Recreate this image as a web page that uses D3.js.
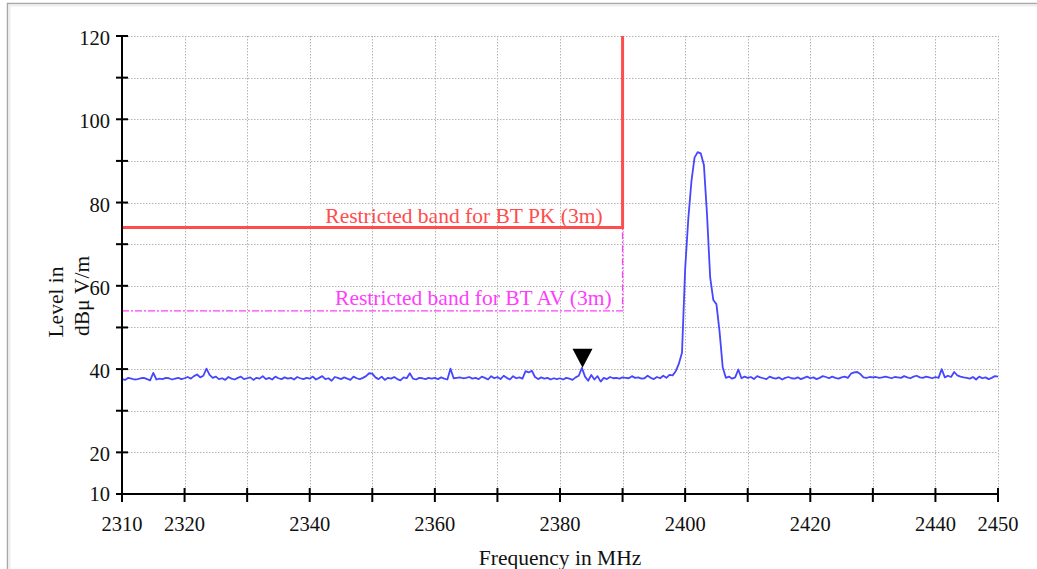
<!DOCTYPE html>
<html>
<head>
<meta charset="utf-8">
<script src="https://cdn.jsdelivr.net/npm/d3@7"></script>
<style>
  html, body { margin: 0; padding: 0; background: #fff; }
  svg { display: block; }
</style>
</head>
<body>
<svg id="chart" width="1037" height="569" font-family="'Liberation Serif', 'DejaVu Serif', serif"></svg>
<script>
// ---------- data ----------
const freqStart = 2310;
const freqStep = 0.5;
const levels = [
  // 2310 - 2319.5
  37.6,37.4,37.9,37.7,37.5,37.6,37.8,37.9,37.6,37.3, 39.1,37.5,37.7,37.6,37.9,37.8,37.5,37.7,37.9,37.6,
  // 2320 - 2329.5
  37.8,38.1,37.7,38.3,38.7,38.0,38.4,40.1,38.6,37.9, 38.2,37.6,37.8,37.4,38.1,37.7,37.5,37.9,38.2,37.6,
  // 2330 - 2339.5
  37.8,38.0,37.4,37.9,37.7,38.3,37.6,37.9,37.5,38.2, 37.8,37.6,38.0,37.7,37.9,37.5,38.1,37.8,37.6,37.9,
  // 2340 - 2349.5
  37.7,38.2,37.5,37.9,38.3,37.6,37.8,37.2,38.1,37.9, 37.6,38.0,37.7,37.4,38.2,37.8,37.6,37.9,38.3,39.0,
  // 2350 - 2359.5
  38.9,38.0,37.6,38.2,37.4,37.9,37.7,38.1,37.6,37.3, 38.0,37.8,39.0,37.7,37.5,37.9,37.8,37.6,37.9,37.7,
  // 2360 - 2369.5
  37.9,37.6,38.0,37.7,37.5,40.1,37.8,37.9,38.0,37.8, 37.9,38.1,37.7,37.9,37.6,38.2,37.9,37.5,38.3,37.8,
  // 2370 - 2379.5
  38.1,37.6,38.4,37.9,37.5,38.3,37.8,38.0,37.7,39.5, 39.2,39.6,38.1,37.6,38.0,37.7,37.9,37.5,37.8,37.6,
  // 2380 - 2389.5
  37.8,37.5,37.9,37.7,37.4,38.0,38.4,40.3,38.2,37.2, 38.6,37.5,38.3,37.0,37.9,37.6,38.1,37.8,37.9,37.7,
  // 2390 - 2399.5
  38.0,37.9,37.8,38.3,37.9,38.0,37.7,37.8,38.4,37.9, 37.6,38.1,37.8,38.4,37.9,38.6,38.5,39.5,41.3,44.0,
  // 2400 - 2409.5
  64.0,76.0,85.0,90.8,92.1,91.8,89.0,77.0,62.0,56.6, 55.6,49.0,40.5,37.9,38.2,37.7,38.0,39.9,37.8,38.2,
  // 2410 - 2419.5
  37.9,38.1,37.6,38.3,38.0,37.8,37.6,38.2,37.9,37.7, 38.0,37.5,37.9,38.1,37.8,37.7,38.0,37.6,37.9,38.2,
  // 2420 - 2429.5
  37.8,38.0,37.6,37.9,38.3,38.1,37.8,38.2,37.9,37.7, 38.0,38.2,37.9,38.9,39.2,39.3,38.8,38.0,37.9,38.1,
  // 2430 - 2439.5
  38.0,38.1,37.9,38.0,38.2,38.0,37.8,38.1,38.0,37.9, 38.3,38.0,37.8,38.2,38.4,38.0,37.9,38.2,38.0,37.8,
  // 2440 - 2450
  38.1,37.9,40.0,38.0,38.4,38.1,39.3,38.5,38.2,38.0, 37.9,37.7,38.1,37.5,38.2,37.8,38.0,37.6,37.9,38.3, 38.2
];
const freqs = levels.map((_, i) => freqStart + i * freqStep);

const xTickValues = [2310,2320,2330,2340,2350,2360,2370,2380,2390,2400,2410,2420,2430,2440,2450];
const xTickLabels = [2310,2320,2340,2360,2380,2400,2420,2440,2450];
const yTickValues = [10,20,30,40,50,60,70,80,90,100,110,120];
const yTickLabels = [10,20,40,60,80,100,120];
const xGridValues = [2320,2330,2340,2350,2360,2370,2380,2390,2400,2410,2420,2430,2440,2450];
const yGridValues = [20,30,40,50,60,70,80,90,100,110,120];

const limitPK = { label: "Restricted band for BT PK (3m)", level: 74, edge: 2390 };
const limitAV = { label: "Restricted band for BT AV (3m)", level: 54, edge: 2390 };
const marker = { freq: 2383.6, level: 40.3 };

const xTitle = "Frequency in MHz";
const yTitleLines = ["Level in", "dBμ V/m"];

// ---------- drawing ----------
const FONT = "'Liberation Serif', 'DejaVu Serif', serif";
const TXT = 21.5;
const svg = d3.select("#chart");
const W = 1037, H = 569;
const x = d3.scaleLinear().domain([2310, 2450]).range([122, 998]);
const y = d3.scaleLinear().domain([10, 120]).range([494, 36]);

// frame
svg.append("rect").attr("x", 0).attr("y", 0).attr("width", W).attr("height", H).attr("fill", "#fff");
svg.append("rect").attr("x", 7.5).attr("y", 3.5).attr("width", W + 20).attr("height", H + 20)
  .attr("fill", "none").attr("stroke", "#a8a8a8").attr("stroke-width", 1.5);
svg.append("line").attr("x1", 9).attr("x2", W).attr("y1", 5.5).attr("y2", 5.5)
  .attr("stroke", "#eeeeee").attr("stroke-width", 2);
svg.append("line").attr("x1", 9.5).attr("x2", 9.5).attr("y1", 5).attr("y2", H)
  .attr("stroke", "#eeeeee").attr("stroke-width", 2);

// grid
const grid = svg.append("g").attr("stroke", "#b4b4b4").attr("stroke-width", 1)
  .attr("stroke-dasharray", "1.5,1.5").attr("fill", "none");
grid.selectAll("line.h").data(yGridValues).join("line").attr("class", "h")
  .attr("x1", x(2310)).attr("x2", x(2450))
  .attr("y1", d => Math.round(y(d)) + 0.5).attr("y2", d => Math.round(y(d)) + 0.5);
grid.selectAll("line.v").data(xGridValues).join("line").attr("class", "v")
  .attr("y1", y(120)).attr("y2", y(10))
  .attr("x1", d => Math.round(x(d)) + 0.5).attr("x2", d => Math.round(x(d)) + 0.5);

// clip
svg.append("clipPath").attr("id", "plot").append("rect")
  .attr("x", x(2310)).attr("y", y(120)).attr("width", x(2450) - x(2310)).attr("height", y(10) - y(120));

// AV limit (dash-dot magenta)
const limPath = d3.line().x(d => x(d[0])).y(d => y(d[1]));
svg.append("path")
  .attr("d", limPath([[2310, limitAV.level], [limitAV.edge, limitAV.level], [limitAV.edge, limitPK.level]]))
  .attr("fill", "none").attr("stroke", "#ff3cff").attr("stroke-width", 1.3)
  .attr("stroke-dasharray", "7,2,2,2");

// PK limit (red)
svg.append("path")
  .attr("d", limPath([[2310, limitPK.level], [limitPK.edge, limitPK.level], [limitPK.edge, 120]]))
  .attr("fill", "none").attr("stroke", "#ff4d4d").attr("stroke-width", 3);

// limit labels
svg.append("text").attr("x", x(limitPK.edge) - 20).attr("y", y(limitPK.level) - 5)
  .attr("font-family", FONT)
  .attr("text-anchor", "end").attr("font-size", TXT).attr("fill", "#ff4d4d").text(limitPK.label);
svg.append("text").attr("x", x(limitAV.edge) - 11).attr("y", y(limitAV.level) - 6)
  .attr("font-family", FONT)
  .attr("text-anchor", "end").attr("font-size", TXT).attr("fill", "#ff3cff").text(limitAV.label);

// trace
const line = d3.line().x((d, i) => x(freqs[i])).y(d => y(d));
svg.append("path").attr("clip-path", "url(#plot)")
  .attr("d", line(levels)).attr("fill", "none")
  .attr("stroke", "#4646ff").attr("stroke-width", 1.8).attr("stroke-linejoin", "round");

// marker
const mx = x(marker.freq), my = y(marker.level);
svg.append("path").attr("d", `M${mx - 10},${my - 19} L${mx + 10},${my - 19} L${mx},${my} Z`).attr("fill", "#000");

// axes
const ax = svg.append("g").attr("stroke", "#000").attr("stroke-width", 2);
ax.append("line").attr("x1", x(2310)).attr("x2", x(2310)).attr("y1", y(120) - 1).attr("y2", y(10) + 1);
ax.append("line").attr("x1", x(2310) - 1).attr("x2", x(2450) + 1).attr("y1", y(10)).attr("y2", y(10));
ax.selectAll("line.yt").data(yTickValues).join("line").attr("class", "yt")
  .attr("x1", x(2310) - 6).attr("x2", d => d === 10 ? x(2310) : x(2310) + 6)
  .attr("y1", d => y(d)).attr("y2", d => y(d));
ax.selectAll("line.xt").data(xTickValues).join("line").attr("class", "xt")
  .attr("y1", y(10) - 6).attr("y2", y(10) + 8)
  .attr("x1", d => x(d)).attr("x2", d => x(d));

// tick labels
svg.append("g").attr("font-family", FONT).selectAll("text").data(yTickLabels).join("text")
  .attr("x", x(2310) - 12).attr("y", d => y(d) + (d === 10 ? 7 : 9))
  .attr("text-anchor", "end").attr("font-size", 20.5).attr("fill", "#111").text(d => d);
svg.append("g").attr("font-family", FONT).selectAll("text").data(xTickLabels).join("text")
  .attr("x", d => x(d)).attr("y", 531)
  .attr("text-anchor", "middle").attr("font-size", 20.5).attr("fill", "#111").text(d => d);

// titles
svg.append("text").attr("x", x(2380)).attr("y", 565).attr("text-anchor", "middle")
  .attr("font-family", FONT).attr("font-size", TXT).attr("fill", "#111").text(xTitle);
svg.append("text").attr("transform", "translate(63,302) rotate(-90)").attr("text-anchor", "middle")
  .attr("font-family", FONT).attr("font-size", TXT).attr("fill", "#111").text(yTitleLines[0]);
svg.append("text").attr("transform", "translate(89,296) rotate(-90)").attr("text-anchor", "middle")
  .attr("font-family", FONT).attr("font-size", TXT).attr("fill", "#111").text(yTitleLines[1]);
</script>
</body>
</html>
